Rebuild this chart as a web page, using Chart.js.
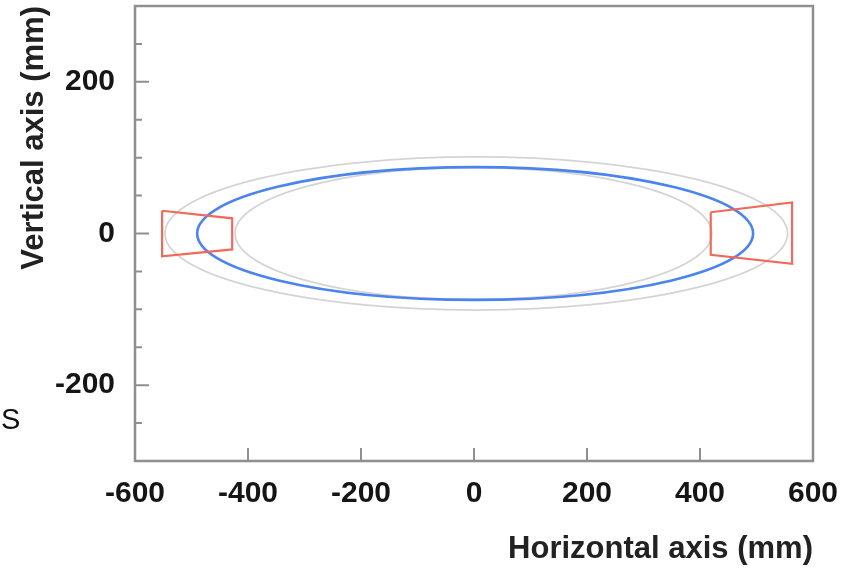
<!DOCTYPE html>
<html>
<head>
<meta charset="utf-8">
<script src="https://cdn.jsdelivr.net/npm/chart.js@4/dist/chart.umd.min.js"></script>
<style>
  html, body { margin:0; padding:0; background:#fff; }
  #wrap { position:relative; width:856px; height:570px; }
  #stray { position:absolute; left:1px; top:403px; font:29px "Liberation Sans", Arial, sans-serif; color:#111; }
</style>
</head>
<body>
<div id="wrap">
  <canvas id="chart" width="856" height="570"></canvas>
  <span id="stray">S</span>
</div>
<script>
// ---- data (mm) ----
const xTickValues = [-600, -400, -200, 0, 200, 400, 600];
const yTickValues = [-200, 0, 200];
const xInnerTicks = [-400, -200, 0, 200, 400];
const yMajorTicks = [-200, 0, 200];
const yMinorTicks = [-250, -150, -100, -50, 50, 100, 150, 250];

// ellipses: outer gray, inner gray, blue
const ellNames  = ["outer", "inner", "beam"];
const ellCx     = [4, -1, 2];
const ellCy     = [0, 0, 0];
const ellRx     = [551, 422, 492];
const ellRy     = [101, 87, 87.5];
const ellColors = ["#d4d4d4", "#d4d4d4", "#4a84ec"];
const ellWidths = [1.7, 1.7, 2.6];

// red quadrilaterals (closed)
const leftBoxX  = [-552, -428, -428, -552, -552];
const leftBoxY  = [30, 20, -21, -30, 30];
const rightBoxX = [419, 563, 563, 419, 419];
const rightBoxY = [28, 41, -40, -28, 28];

const RED = "#ee6b5c";
const FRAME = "#8f8f8f";

const toPts = (xs, ys) => xs.map((x, i) => ({ x, y: ys[i] }));

const ellipsesAndFrame = {
  id: "ellipsesAndFrame",
  beforeDatasetsDraw(chart) {
    const { ctx, chartArea: a, scales: { x, y } } = chart;
    ctx.save();
    ctx.beginPath();
    ctx.rect(a.left, a.top, a.right - a.left, a.bottom - a.top);
    ctx.clip();
    ellNames.forEach((n, i) => {
      const cx = x.getPixelForValue(ellCx[i]);
      const cy = y.getPixelForValue(ellCy[i]);
      const rx = Math.abs(x.getPixelForValue(ellCx[i] + ellRx[i]) - cx);
      const ry = Math.abs(y.getPixelForValue(ellCy[i] + ellRy[i]) - cy);
      ctx.beginPath();
      ctx.ellipse(cx, cy, rx, ry, 0, 0, Math.PI * 2);
      ctx.strokeStyle = ellColors[i];
      ctx.lineWidth = ellWidths[i];
      ctx.stroke();
    });
    ctx.restore();
  },
  afterDraw(chart) {
    const { ctx, chartArea: a, scales: { x, y } } = chart;
    ctx.save();
    ctx.strokeStyle = FRAME;
    ctx.lineWidth = 2.5;
    ctx.strokeRect(a.left, a.top, a.right - a.left, a.bottom - a.top);
    ctx.lineWidth = 2;
    ctx.beginPath();
    xInnerTicks.forEach(v => {
      const px = x.getPixelForValue(v);
      ctx.moveTo(px, a.bottom);
      ctx.lineTo(px, a.bottom - 13);
    });
    yMajorTicks.forEach(v => {
      const py = y.getPixelForValue(v);
      ctx.moveTo(a.left, py);
      ctx.lineTo(a.left + 14, py);
    });
    yMinorTicks.forEach(v => {
      const py = y.getPixelForValue(v);
      ctx.moveTo(a.left, py);
      ctx.lineTo(a.left + 7, py);
    });
    ctx.stroke();
    ctx.restore();
  }
};

const tickFont = { family: "'Liberation Sans', Arial, sans-serif", size: 30, weight: "bold" };
const titleFont = { family: "'Liberation Sans', Arial, sans-serif", size: 31, weight: "bold" };

// keep the plot box fixed: no extra label padding around it
const fixBox = (w, h) => s => {
  if (w) s.width = w;
  if (h) s.height = h;
  s.paddingTop = 0; s.paddingBottom = 0; s.paddingLeft = 0; s.paddingRight = 0;
};

new Chart(document.getElementById("chart"), {
  type: "scatter",
  data: {
    datasets: [
      { label: "left", data: toPts(leftBoxX, leftBoxY), showLine: true, borderColor: RED, borderWidth: 2.2, pointRadius: 0, fill: false },
      { label: "right", data: toPts(rightBoxX, rightBoxY), showLine: true, borderColor: RED, borderWidth: 2.2, pointRadius: 0, fill: false }
    ]
  },
  options: {
    responsive: false,
    animation: false,
    layout: { padding: { left: 0, top: 6, right: 43, bottom: 0 } },
    plugins: { legend: { display: false }, tooltip: { enabled: false } },
    scales: {
      x: {
        type: "linear", min: -600, max: 600,
        afterBuildTicks: s => { s.ticks = xTickValues.map(v => ({ value: v })); },
        afterFit: fixBox(0, 109),
        grid: { display: false, drawTicks: false },
        border: { display: false },
        ticks: { color: "#151515", font: tickFont, padding: 15, maxRotation: 0, autoSkip: false },
        title: { display: true, text: "Horizontal axis (mm)", align: "end", color: "#222", font: titleFont, padding: { top: 0, bottom: 2 } }
      },
      y: {
        type: "linear", min: -300, max: 300,
        afterBuildTicks: s => { s.ticks = yTickValues.map(v => ({ value: v })); },
        afterFit: fixBox(135, 0),
        grid: { display: false, drawTicks: false },
        border: { display: false },
        ticks: { color: "#151515", font: tickFont, padding: 20, autoSkip: false },
        title: { display: true, text: "Vertical axis (mm)", align: "end", color: "#222", font: titleFont, padding: { top: 16, bottom: 0 } }
      }
    }
  },
  plugins: [ellipsesAndFrame]
});
</script>
</body>
</html>
